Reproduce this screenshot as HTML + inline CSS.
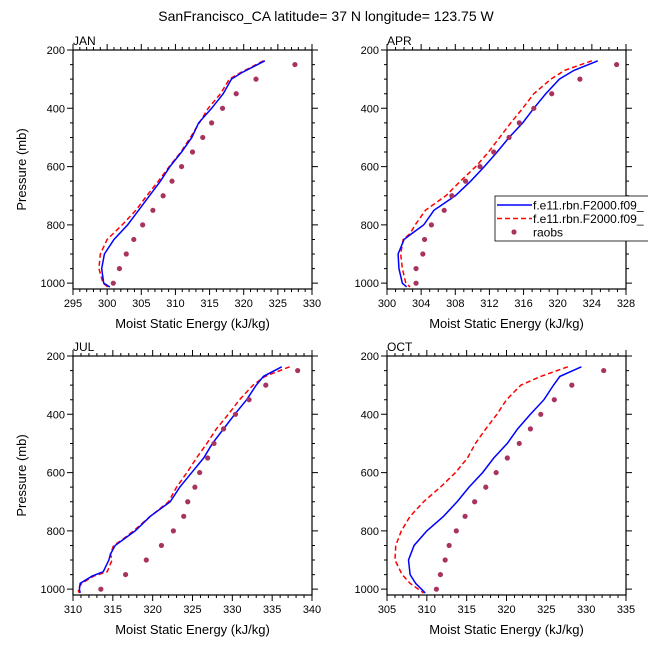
<!DOCTYPE html>
<html><head><meta charset="utf-8"><style>
body{margin:0;background:#fff;}
svg text{font-family:"Liberation Sans",Arial,sans-serif;fill:#000;}
</style></head><body>
<svg id="chart" width="648" height="649" viewBox="0 0 648 649" xmlns="http://www.w3.org/2000/svg">
<text x="326" y="21" font-size="14" text-anchor="middle">SanFrancisco_CA  latitude= 37 N longitude= 123.75 W</text>
<g id="plots"></g>
<g>
<rect x="495" y="196" width="160" height="45" fill="#fff" stroke="#000" stroke-width="0.8"/>
<line x1="497" y1="205" x2="532" y2="205" stroke="#0000ff" stroke-width="1.5"/>
<text x="533" y="209.5" font-size="12">f.e11.rbn.F2000.f09_</text>
<line x1="497" y1="218.5" x2="532" y2="218.5" stroke="#ff0000" stroke-width="1.5" stroke-dasharray="5,3"/>
<text x="533" y="223" font-size="12">f.e11.rbn.F2000.f09_</text>
<circle cx="514" cy="232" r="2.6" fill="#a83260"/>
<text x="533" y="236.5" font-size="12">raobs</text>
</g>
</svg>
<script>
const obsP=[250,300,350,400,450,500,550,600,650,700,750,800,850,900,950,1000];
const janObs=[327.5,321.8,318.9,316.9,315.3,314.0,312.5,310.9,309.5,308.2,306.7,305.2,303.9,302.8,301.8,300.9];
const aprObs=[326.9,322.6,319.3,317.2,315.5,314.3,312.5,310.9,309.2,307.6,306.7,305.2,304.4,304.2,303.4,303.4];
const julObs=[338.2,334.2,332.1,330.4,328.9,327.7,326.9,325.9,325.3,324.4,323.9,322.6,321.1,319.2,316.6,313.5];
const octObs=[332.2,328.2,326.0,324.3,323.0,321.6,320.1,318.7,317.4,316.0,314.8,313.7,312.8,312.3,311.7,311.2];

const janP=[237,278,300,350,400,450,500,550,600,650,700,750,800,850,900,950,1000,1013];
const janBlue=[323.1,319.7,318.2,317.0,315.3,313.4,312.4,310.9,309.2,307.8,306.2,304.6,303.0,301.0,299.6,299.2,299.5,300.4];
const janRed=[322.9,319.5,317.9,316.6,314.8,313.5,312.2,310.8,309.1,307.5,305.8,304.2,302.2,300.0,299.0,298.8,299.4,300.1];

const aprP=[237,270,300,350,400,450,500,550,600,650,700,750,800,830,850,900,950,1000,1013];
const aprBlue=[324.7,321.9,320.2,318.6,317.2,315.9,314.3,312.9,311.4,309.8,308.0,305.5,304.3,302.9,302.0,301.3,301.4,301.8,302.3];
const aprRed=[324.0,320.8,319.2,317.2,315.9,314.5,313.2,311.9,310.4,308.6,306.9,304.5,303.3,302.7,301.9,301.6,301.8,302.2,302.7];

const julP=[237,270,300,350,400,450,500,550,600,650,700,750,800,830,850,880,900,940,955,980,1000,1013];
const julBlue=[336.2,333.9,333.0,331.8,330.3,328.9,327.5,326.4,324.9,323.4,322.2,319.7,317.8,316.3,315.3,314.7,314.5,313.8,312.4,310.9,310.8,310.9];
const julRed=[337.2,334.1,332.6,330.9,329.5,328.0,326.8,325.5,324.3,323.0,322.0,319.7,317.6,316.2,315.1,314.7,314.9,314.3,312.6,311.1,310.6,310.8];

const octP=[237,270,300,350,400,450,500,550,600,650,700,750,800,850,900,950,980,1013];
const octBlue=[329.4,326.7,325.9,324.7,323.0,321.4,320.1,318.4,317.0,315.3,313.8,312.1,310.0,308.4,307.7,307.9,308.6,309.8];
const octRed=[327.7,324.3,321.8,320.0,318.8,317.4,316.1,315.1,313.6,311.7,309.6,307.9,306.8,306.1,306.0,306.9,307.9,309.6];

const panels=[
 {name:'jan',label:'JAN',x0:73,y0:50,xmin:295,xmax:330,step:5,P:janP,blue:janBlue,red:janRed,obs:janObs},
 {name:'apr',label:'APR',x0:387,y0:50,xmin:300,xmax:328,step:4,P:aprP,blue:aprBlue,red:aprRed,obs:aprObs},
 {name:'jul',label:'JUL',x0:73,y0:356,xmin:310,xmax:340,step:5,P:julP,blue:julBlue,red:julRed,obs:julObs},
 {name:'oct',label:'OCT',x0:387,y0:356,xmin:305,xmax:335,step:5,P:octP,blue:octBlue,red:octRed,obs:octObs}
];
const W=239,H=239,pmin=200,pmax=1020;
const NS='http://www.w3.org/2000/svg';
const root=document.getElementById('plots');
function mk(tag,attrs,parent){const e=document.createElementNS(NS,tag);for(const k in attrs)e.setAttribute(k,attrs[k]);parent.appendChild(e);return e;}
panels.forEach(pn=>{
 const g=mk('g',{},root);
 
 
 const sx=v=>pn.x0+(v-pn.xmin)/(pn.xmax-pn.xmin)*W;
 const sy=p=>pn.y0+(p-pmin)/(pmax-pmin)*H;
 let tk='';
 for(let v=pn.xmin;v<=pn.xmax+1e-9;v+=1){const maj=((v-pn.xmin)%pn.step)===0;const L=maj?6:3;const x=sx(v);
  tk+=`M${x},${pn.y0+H}v${L}M${x},${pn.y0}v${-L}`;}
 for(let p=200;p<=1000;p+=50){const maj=p%200===0;const L=maj?6:3;const y=sy(p);
  tk+=`M${pn.x0},${y}h${-L}M${pn.x0+W},${y}h${L}`;}
 const t=mk('path',{d:tk,stroke:'#000','stroke-width':1,fill:'none'},g);
 
 
 for(let v=pn.xmin;v<=pn.xmax+1e-9;v+=pn.step){
  const tx=mk('text',{x:sx(v),y:pn.y0+H+18,'font-size':11,'text-anchor':'middle'},g);tx.textContent=v;
  
  
 }
 for(let p=200;p<=1000;p+=200){
  const tx=mk('text',{x:pn.x0-8,y:sy(p)+4,'font-size':11,'text-anchor':'end'},g);tx.textContent=p;
  
  
 }
 const xt=mk('text',{x:pn.x0+W/2,y:pn.y0+H+39,'font-size':13,'text-anchor':'middle'},g);xt.textContent='Moist Static Energy (kJ/kg)';
 
 
 if(pn.x0<200){
  const yt=mk('text',{x:0,y:0,'font-size':13,'text-anchor':'middle',transform:`translate(26,${pn.y0+H/2}) rotate(-90)`},g);yt.textContent='Pressure (mb)';
  
  
 }
 const lb=mk('text',{x:pn.x0,y:pn.y0-5,'font-size':12},g);lb.textContent=pn.label;
 
 
 const cid='clip-'+pn.name;
 const cp=mk('clipPath',{id:cid},g);mk('rect',{x:pn.x0,y:pn.y0,width:W,height:H},cp);
 const red=mk('polyline',{points:pn.P.map((p,i)=>sx(pn.red[i])+','+sy(p)).join(' '),fill:'none',stroke:'#ff0000','stroke-width':1.5,'stroke-dasharray':'5,3','clip-path':`url(#${cid})`},g);
 
 
 const blue=mk('polyline',{points:pn.P.map((p,i)=>sx(pn.blue[i])+','+sy(p)).join(' '),fill:'none',stroke:'#0000ff','stroke-width':1.5,'clip-path':`url(#${cid})`},g);
 
 
 obsP.forEach((p,i)=>{
  const c=mk('circle',{cx:sx(pn.obs[i]),cy:sy(p),r:2.6,fill:'#a83260'},g);
  
  
 });
 const fr=mk('rect',{x:pn.x0,y:pn.y0,width:W,height:H,fill:'none',stroke:'#000','stroke-width':1.2},g);
 
 
});
</script>
</body></html>
